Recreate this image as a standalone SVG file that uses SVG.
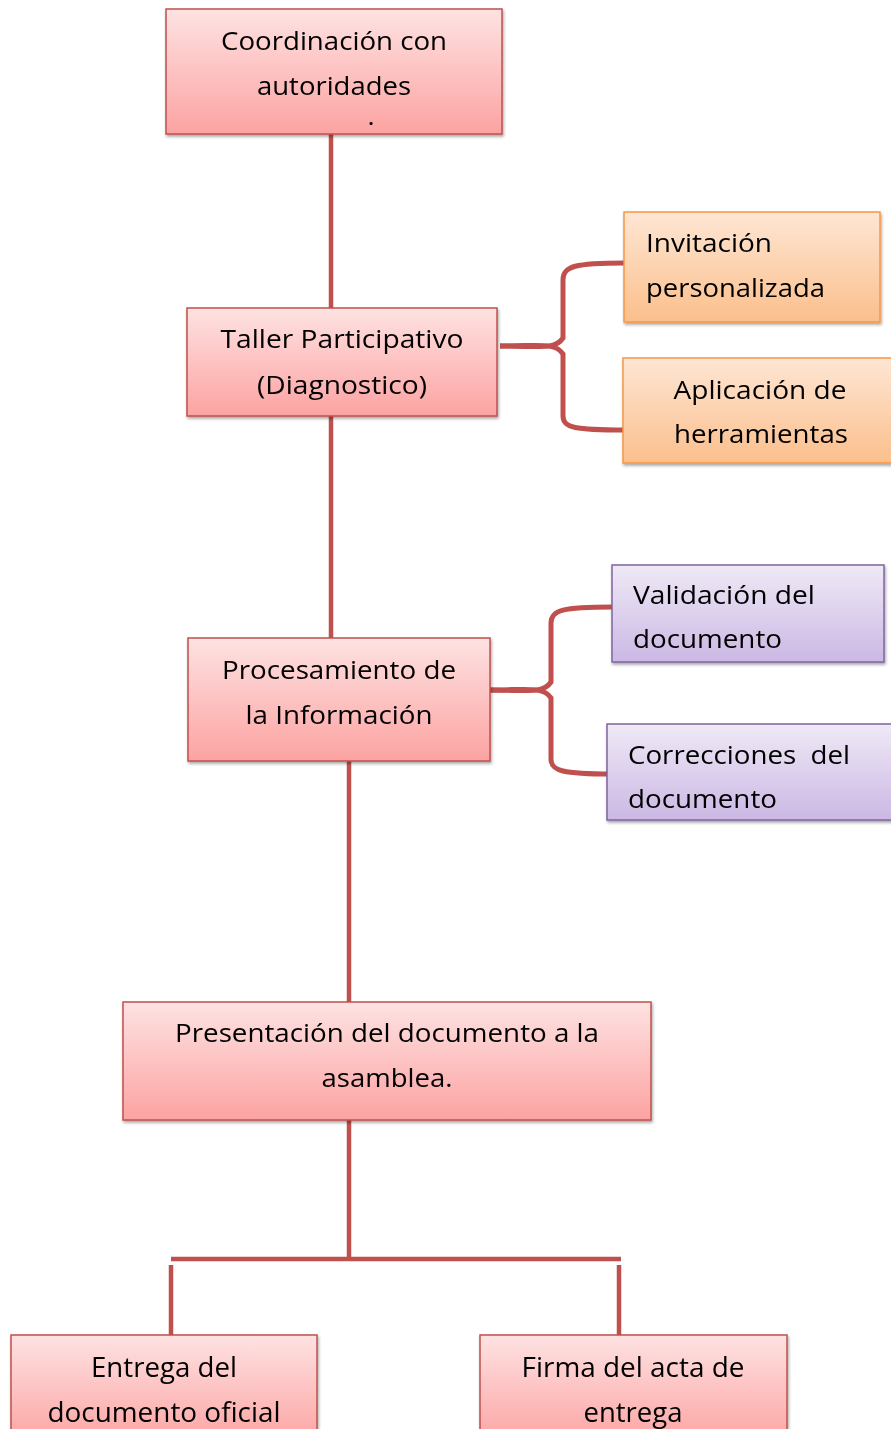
<svg xmlns="http://www.w3.org/2000/svg" width="891" height="1429" viewBox="0 0 891 1429">
<style>
.t{font-family:"Open Sans","Noto Sans","Liberation Sans",sans-serif;font-size:25.5px;fill:#000}
.b{font-size:28px}
.dot{font-size:18px;font-weight:bold}
.c{text-anchor:middle}
.red{fill:url(#gRed);stroke:#c0504d;stroke-width:1.5}
.org{fill:url(#gOrg);stroke:#f79646;stroke-width:1.5}
.pur{fill:url(#gPur);stroke:#8064a2;stroke-width:1.5}
.ln{fill:none;stroke:#c0504d;stroke-width:4.5;stroke-linecap:butt}
.br{fill:none;stroke:#c0504d;stroke-width:5}
</style>
<defs>
<linearGradient id="gRed" x1="0" y1="0" x2="0" y2="1"><stop offset="0" stop-color="#fee2e2"/><stop offset="1" stop-color="#fca3a2"/></linearGradient>
<linearGradient id="gOrg" x1="0" y1="0" x2="0" y2="1"><stop offset="0" stop-color="#fee6d4"/><stop offset="1" stop-color="#fbbf8c"/></linearGradient>
<linearGradient id="gPur" x1="0" y1="0" x2="0" y2="1"><stop offset="0" stop-color="#efe9f6"/><stop offset="1" stop-color="#cbb8e4"/></linearGradient>
<filter id="sh" x="-5%" y="-5%" width="112%" height="120%"><feDropShadow dx="1" dy="2" stdDeviation="1.5" flood-color="#000" flood-opacity="0.35"/></filter>
</defs>

<g id="connectors">
<path class="ln" d="M331 134V308"/>
<path class="ln" d="M331 416V638"/>
<path class="ln" d="M349 761V1002"/>
<path class="ln" d="M349 1120V1259"/>
<path class="ln" d="M171 1259H621" stroke-width="5.5"/>
<path class="ln" d="M171 1265V1336"/>
<path class="ln" d="M619 1265V1336"/>
<path class="br" d="M500 346C540 346 555 350 563 338V280C563 266 575 263 625 263"/>
<path class="br" d="M500 346C540 346 555 342 563 354V416C563 428 575 430 625 430"/>
<path class="br" d="M488 690C528 690 543 694 551 682V623C551 610 563 607 612 607"/>
<path class="br" d="M488 690C528 690 543 686 551 698V759C551 771 563 774 612 774"/>
</g>

<g id="n1" filter="url(#sh)">
<rect class="red" x="166" y="9" width="336" height="125"/>
<text class="t c" x="334" y="50" textLength="226" lengthAdjust="spacingAndGlyphs">Coordinación con</text>
<text class="t c" x="334" y="95" textLength="154" lengthAdjust="spacingAndGlyphs">autoridades</text>
<text class="t c dot" x="371" y="125">.</text>
</g>

<g id="n2" filter="url(#sh)">
<rect class="red" x="187" y="308" width="310" height="108"/>
<text class="t c" x="342" y="348" textLength="243" lengthAdjust="spacingAndGlyphs">Taller Participativo</text>
<text class="t c" x="342" y="394" textLength="170" lengthAdjust="spacingAndGlyphs">(Diagnostico)</text>
</g>

<g id="n3" filter="url(#sh)">
<rect class="org" x="624" y="212" width="256" height="110"/>
<text class="t" x="646" y="252" textLength="126" lengthAdjust="spacingAndGlyphs">Invitación</text>
<text class="t" x="646" y="297" textLength="179" lengthAdjust="spacingAndGlyphs">personalizada</text>
</g>

<g id="n4" filter="url(#sh)">
<rect class="org" x="623" y="358" width="272" height="105"/>
<text class="t c" x="760" y="399" textLength="173" lengthAdjust="spacingAndGlyphs">Aplicación de</text>
<text class="t c" x="761" y="443" textLength="174" lengthAdjust="spacingAndGlyphs">herramientas</text>
</g>

<g id="n5" filter="url(#sh)">
<rect class="red" x="188" y="638" width="302" height="123"/>
<text class="t c" x="339" y="679" textLength="234" lengthAdjust="spacingAndGlyphs">Procesamiento de</text>
<text class="t c" x="339" y="724" textLength="187" lengthAdjust="spacingAndGlyphs">la Información</text>
</g>

<g id="n6" filter="url(#sh)">
<rect class="pur" x="612" y="565" width="272" height="97"/>
<text class="t" x="633" y="604" textLength="182" lengthAdjust="spacingAndGlyphs">Validación del</text>
<text class="t" x="633" y="648" textLength="149" lengthAdjust="spacingAndGlyphs">documento</text>
</g>

<g id="n7" filter="url(#sh)">
<rect class="pur" x="607" y="724" width="288" height="96"/>
<text class="t" x="628" y="764" textLength="222" lengthAdjust="spacingAndGlyphs" xml:space="preserve">Correcciones  del</text>
<text class="t" x="628" y="808" textLength="149" lengthAdjust="spacingAndGlyphs">documento</text>
</g>

<g id="n8" filter="url(#sh)">
<rect class="red" x="123" y="1002" width="528" height="118"/>
<text class="t c" x="387" y="1042" textLength="424" lengthAdjust="spacingAndGlyphs">Presentación del documento a la</text>
<text class="t c" x="387" y="1087" textLength="131" lengthAdjust="spacingAndGlyphs">asamblea.</text>
</g>

<g id="n9" filter="url(#sh)">
<rect class="red" x="11" y="1335" width="306" height="110"/>
<text class="t c b" x="164" y="1377" textLength="146" lengthAdjust="spacingAndGlyphs">Entrega del</text>
<text class="t c b" x="164" y="1422" textLength="233" lengthAdjust="spacingAndGlyphs">documento oficial</text>
</g>

<g id="n10" filter="url(#sh)">
<rect class="red" x="480" y="1335" width="307" height="110"/>
<text class="t c b" x="633" y="1377" textLength="223" lengthAdjust="spacingAndGlyphs">Firma del acta de</text>
<text class="t c b" x="633" y="1422" textLength="99" lengthAdjust="spacingAndGlyphs">entrega</text>
</g>
</svg>
